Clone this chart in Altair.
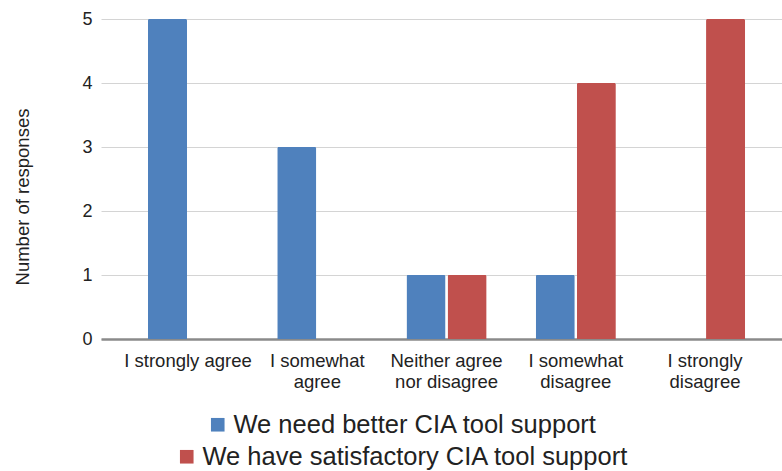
import altair as alt
import pandas as pd

# Survey answers and the two statements that were rated
categories = [
    "I strongly agree",
    "I somewhat agree",
    "Neither agree nor disagree",
    "I somewhat disagree",
    "I strongly disagree",
]
label_lines = [
    ["I strongly agree"],
    ["I somewhat", "agree"],
    ["Neither agree", "nor disagree"],
    ["I somewhat", "disagree"],
    ["I strongly", "disagree"],
]
series_names = [
    "We need better CIA tool support",
    "We have satisfactory CIA tool support",
]
need_better = [5, 3, 1, 1, 0]
satisfactory = [0, 0, 1, 4, 5]
colors = ["#4f81bd", "#c0504d"]
y_ticks = [0, 1, 2, 3, 4, 5]

rows = []
for name, values in zip(series_names, [need_better, satisfactory]):
    for cat, v in zip(categories, values):
        rows.append({"category": cat, "series": name, "responses": v})
df = pd.DataFrame(rows)

# Multi-line category labels
label_expr = ""
for cat, lines in zip(categories, label_lines):
    arr = "[" + ",".join("'" + l + "'" for l in lines) + "]"
    label_expr += "datum.value === '" + cat + "' ? " + arr + " : "
label_expr += "datum.label"

FONT = "Liberation Sans"
TEXT = "#222222"

x_enc = alt.X(
    "category:N",
    sort=categories,
    scale=alt.Scale(paddingInner=0.38, paddingOuter=0.3245, align=0.56),
    axis=alt.Axis(
        title=None,
        labelAngle=0,
        labelExpr=label_expr,
        labelFontSize=18.5,
        labelLineHeight=21,
        labelPadding=12,
        labelColor=TEXT,
        labelFont=FONT,
        ticks=False,
        domainColor="#8a8a8a",
        domainWidth=2.5,
        grid=False,
    ),
)
y_enc = alt.Y(
    "responses:Q",
    scale=alt.Scale(domain=[0, 5], nice=False),
    axis=alt.Axis(
        title="Number of responses",
        titleFont=FONT,
        titleFontSize=18.5,
        titleFontWeight="normal",
        titleColor=TEXT,
        titleX=-79,
        titleY=177.5,
        titleAngle=-90,
        titleAlign="center",
        titleBaseline="middle",
        values=y_ticks,
        labelFontSize=18,
        labelColor=TEXT,
        labelFont=FONT,
        labelPadding=9,
        ticks=False,
        domain=False,
        gridColor="#d4d4d4",
        gridWidth=1,
    ),
)
offset_enc = alt.XOffset(
    "series:N",
    sort=series_names,
    scale=alt.Scale(domain=series_names, paddingInner=0.05),
)

legend_pos = [(104, 393), (73, 425)]


def series_layer(i):
    lx, ly = legend_pos[i]
    return (
        alt.Chart(df)
        .transform_filter(alt.datum.series == series_names[i])
        .mark_bar(cornerRadiusTopLeft=1.5, cornerRadiusTopRight=1.5)
        .encode(
            x=x_enc,
            y=y_enc,
            xOffset=offset_enc,
            color=alt.Color(
                "series:N",
                scale=alt.Scale(domain=[series_names[i]], range=[colors[i]]),
                legend=alt.Legend(
                    title=None,
                    orient="none",
                    legendX=lx,
                    legendY=ly,
                    symbolType="square",
                    symbolSize=185,
                    symbolStrokeWidth=0,
                    labelFontSize=25.5,
                    labelFont=FONT,
                    labelColor=TEXT,
                    labelOffset=3,
                    labelLimit=600,
                    padding=0,
                ),
            ),
        )
    )


chart = (
    alt.layer(series_layer(0), series_layer(1))
    .resolve_scale(color="independent")
    .properties(
        width=681,
        height=320,
        autosize=alt.AutoSizeParams(type="none"),
        padding={"left": 101, "top": 19, "right": 0, "bottom": 132},
        background="white",
    )
    .configure_view(strokeWidth=0)
)

chart.save("out.html", embed_options={"renderer": "svg", "actions": False})
